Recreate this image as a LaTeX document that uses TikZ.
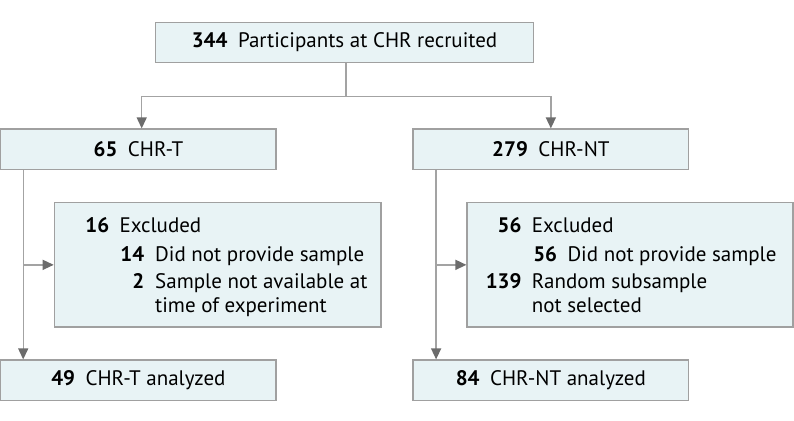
\documentclass[tikz,border=0pt]{standalone}
\usepackage{fontspec}
\setmainfont{PT Sans}
\usetikzlibrary{arrows.meta}
\definecolor{boxfill}{HTML}{E8F3F5}
\definecolor{boxline}{HTML}{A0A0A0}
\definecolor{linec}{HTML}{A3A3A3}
\definecolor{tipc}{HTML}{6C6C6C}
\newcommand{\nbr}[1]{\textbf{#1}\hspace{0.5em}}
\begin{document}
\begin{tikzpicture}[x=1pt,y=-1pt,
  box/.style={draw=boxline, fill=boxfill, line width=1.2pt, inner sep=0pt, font=\fontsize{21}{24}\selectfont},
  conn/.style={draw=linec, line width=1.4pt, -{Triangle[length=11pt,width=10pt,color=tipc]}},
  txt/.style={font=\fontsize{21}{24}\selectfont, inner sep=0pt}]
\useasboundingbox (0,0) rectangle (794,420);
% boxes
\node[box, minimum width=377.6pt, minimum height=40.4pt] (top) at (344.5,42.5) {\nbr{344}Participants at CHR recruited};
\node[box, minimum width=275.2pt, minimum height=40.4pt] (ct) at (138.4,149.2) {\nbr{65}CHR-T};
\node[box, minimum width=275.7pt, minimum height=40.4pt] (cnt) at (550.85,149.2) {\nbr{279}CHR-NT};
\node[box, minimum width=326.7pt, minimum height=124.3pt] (ext) at (217.65,264.85) {};
\node[box, minimum width=326pt, minimum height=124.3pt] (exn) at (630,264.85) {};
\node[box, minimum width=275.2pt, minimum height=40.4pt] (ca) at (138.4,380.2) {\nbr{49}CHR-T analyzed};
\node[box, minimum width=275.7pt, minimum height=40.4pt] (cna) at (550.85,380.2) {\nbr{84}CHR-NT analyzed};
% texts left exclusion box
\node[txt, anchor=base east] (t1n) at (109.5,232.3) {\textbf{16}};
\node[txt, anchor=base west] (t1t) at (119.3,232.3) {Excluded};
\node[txt, anchor=base east] (t2n) at (144.5,261) {\textbf{14}};
\node[txt, anchor=base west] (t2t) at (155,261) {Did not provide sample};
\node[txt, anchor=base east] (t3n) at (144.5,288.8) {\textbf{2}};
\node[txt, anchor=base west] (t3t) at (155,288.8) {Sample not available at};
\node[txt, anchor=base west] (t4t) at (155,312) {time of experiment};
% texts right exclusion box
\node[txt, anchor=base east] (r1n) at (521.7,232.3) {\textbf{56}};
\node[txt, anchor=base west] (r1t) at (531.7,232.3) {Excluded};
\node[txt, anchor=base east] (r2n) at (557.3,261) {\textbf{56}};
\node[txt, anchor=base west] (r2t) at (567.3,261) {Did not provide sample};
\node[txt, anchor=base east] (r3n) at (521.7,288.8) {\textbf{139}};
\node[txt, anchor=base west] (r3t) at (531.7,288.8) {Random subsample};
\node[txt, anchor=base west] (r4t) at (531.7,312) {not selected};
% connectors
\coordinate (split) at ([yshift=-33pt]top.south);
\draw[conn] ([xshift=1.5pt]top.south) -- ([xshift=1.5pt]split) -| ([xshift=3.3pt]ct.north);
\draw[conn] ([xshift=1.5pt]split) -| (cnt.north);
\path ([xshift=23pt]ct.south west) coordinate (lt);
\path ([xshift=23.7pt]cnt.south west) coordinate (rt);
\draw[conn] (lt) -- (lt |- ca.north);
\draw[conn] (lt |- ext.west) -- (ext.west);
\draw[conn] (rt) -- (rt |- cna.north);
\draw[conn] (rt |- exn.west) -- (exn.west);
\end{tikzpicture}
\end{document}
